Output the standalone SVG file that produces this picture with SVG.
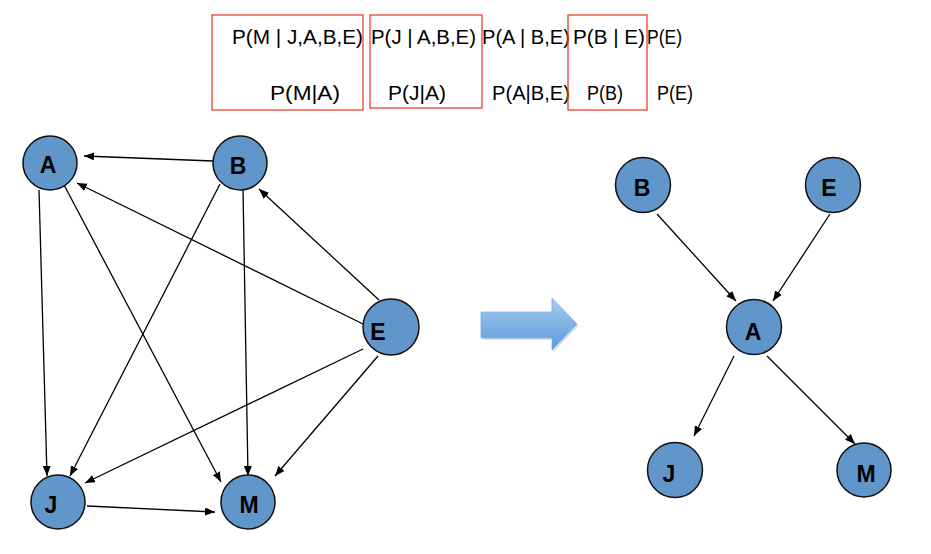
<svg xmlns="http://www.w3.org/2000/svg" width="931" height="554" viewBox="0 0 931 554">
<style>
.bg{fill:#ffffff}
.node circle{fill:#6196cb;stroke:#111;stroke-width:1.5}
.node text{font-family:"Liberation Sans",Arial,sans-serif;font-weight:bold;font-size:23px;fill:#000;text-anchor:middle}
.edges line{stroke:#000;stroke-width:1.3;marker-end:url(#ah)}
.fm{font-family:"Liberation Sans",Arial,sans-serif;font-size:20.5px;fill:#000}
.box{fill:none;stroke:#e8412c;stroke-width:1.3}
</style>
<defs>
<marker id="ah" markerUnits="userSpaceOnUse" markerWidth="11" markerHeight="9" refX="10" refY="4" orient="auto">
<path d="M0,0 L10,4 L0,8 z" fill="#000"/>
</marker>
<linearGradient id="bluegrad" x1="0" y1="0" x2="0" y2="1">
<stop offset="0" stop-color="#a9ccf2"/>
<stop offset="1" stop-color="#5c99d8"/>
</linearGradient>
</defs>
<rect class="bg" x="0" y="0" width="931" height="554"/>

<g id="formulas">
<text class="fm" x="232" y="44" textLength="131" lengthAdjust="spacingAndGlyphs">P(M | J,A,B,E)</text>
<text class="fm" x="371" y="44" textLength="105" lengthAdjust="spacingAndGlyphs">P(J | A,B,E)</text>
<text class="fm" x="482" y="44" textLength="88" lengthAdjust="spacingAndGlyphs">P(A | B,E)</text>
<text class="fm" x="573" y="44" textLength="72" lengthAdjust="spacingAndGlyphs">P(B | E)</text>
<text class="fm" x="647" y="44" textLength="35" lengthAdjust="spacingAndGlyphs">P(E)</text>
<text class="fm" x="270" y="100" textLength="70" lengthAdjust="spacingAndGlyphs">P(M|A)</text>
<text class="fm" x="388" y="100" textLength="58" lengthAdjust="spacingAndGlyphs">P(J|A)</text>
<text class="fm" x="492" y="100" textLength="78" lengthAdjust="spacingAndGlyphs">P(A|B,E)</text>
<text class="fm" x="587" y="100" textLength="36" lengthAdjust="spacingAndGlyphs">P(B)</text>
<text class="fm" x="657" y="100" textLength="36" lengthAdjust="spacingAndGlyphs">P(E)</text>
<rect class="box" x="212" y="15" width="151" height="95"/>
<rect class="box" x="370" y="15" width="112" height="93"/>
<rect class="box" x="568" y="15" width="79" height="95"/>
</g>

<g id="connectors" class="edges">
<line x1="213" y1="161" x2="84" y2="156"/>
<line x1="363" y1="324" x2="77" y2="183"/>
<line x1="379" y1="300" x2="259" y2="189"/>
<line x1="39" y1="190" x2="47" y2="476"/>
<line x1="63" y1="183" x2="221" y2="482"/>
<line x1="220" y1="184" x2="70" y2="476"/>
<line x1="243" y1="189" x2="248" y2="476"/>
<line x1="363" y1="349" x2="85" y2="483"/>
<line x1="378" y1="356" x2="275" y2="476"/>
<line x1="87" y1="506" x2="215" y2="512"/>
<line x1="657" y1="214" x2="736" y2="301"/>
<line x1="830" y1="214" x2="773" y2="301"/>
<line x1="734" y1="356" x2="694" y2="436"/>
<line x1="767" y1="356" x2="855" y2="444"/>
</g>

<g id="transform-arrow">
<path d="M481,312 L552,312 L552,298 L577,324 L552,350 L552,338 L481,338 Z" fill="#8fa9c4" opacity="0.35" transform="translate(1.5,2)"/>
<path d="M481,312 L552,312 L552,298 L577,324 L552,350 L552,338 L481,338 Z" fill="url(#bluegrad)" stroke="#7eaee0" stroke-width="0.8"/>
</g>

<g id="node-A-left" class="node"><circle cx="50" cy="163" r="27"/><text x="48" y="173">A</text></g>
<g id="node-B-left" class="node"><circle cx="240" cy="163" r="27"/><text x="238" y="174">B</text></g>
<g id="node-E-left" class="node"><circle cx="391" cy="327" r="28"/><text x="378" y="340">E</text></g>
<g id="node-J-left" class="node"><circle cx="58" cy="502" r="27"/><text x="51" y="513">J</text></g>
<g id="node-M-left" class="node"><circle cx="248" cy="502" r="27"/><text x="249" y="513">M</text></g>

<g id="node-B-right" class="node"><circle cx="643" cy="185" r="27.5"/><text x="642" y="196">B</text></g>
<g id="node-E-right" class="node"><circle cx="833" cy="185" r="27.5"/><text x="829" y="196">E</text></g>
<g id="node-A-right" class="node"><circle cx="754" cy="327" r="27.5"/><text x="753" y="340">A</text></g>
<g id="node-J-right" class="node"><circle cx="675" cy="470" r="27.5"/><text x="669" y="482">J</text></g>
<g id="node-M-right" class="node"><circle cx="864" cy="470" r="27"/><text x="866" y="482">M</text></g>
</svg>
